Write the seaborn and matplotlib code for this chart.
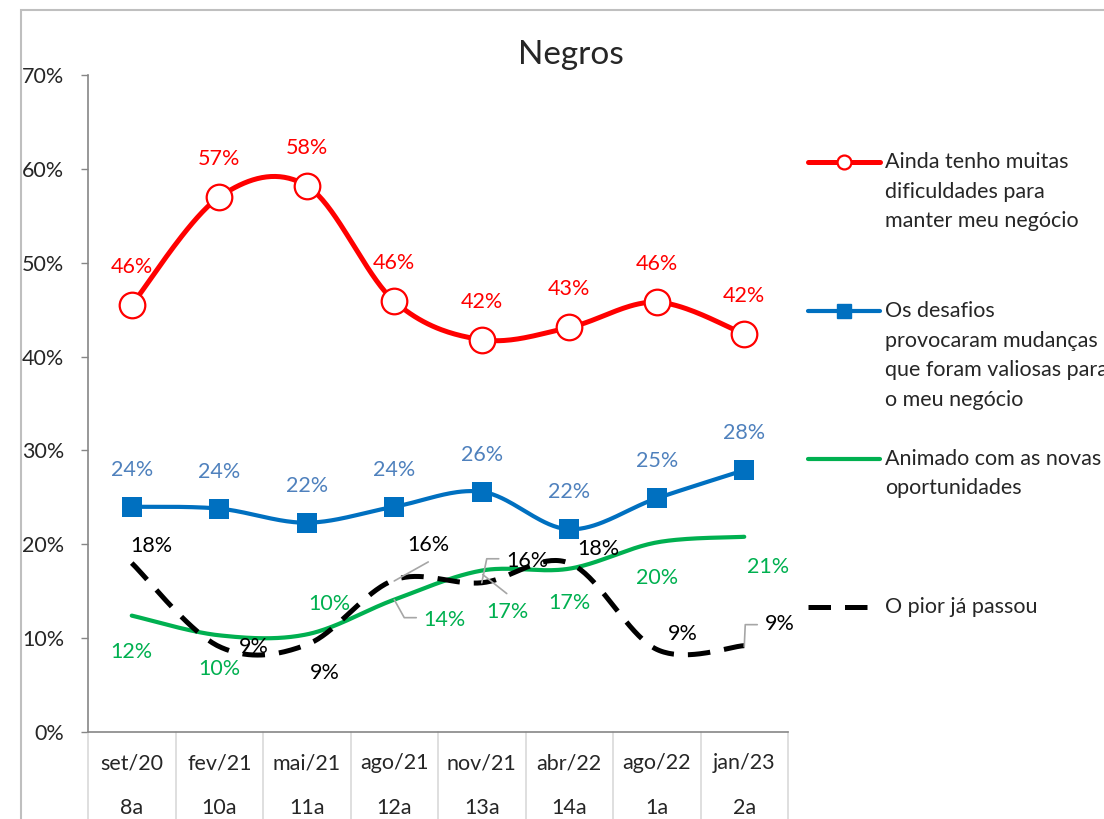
import numpy as np
import matplotlib
matplotlib.use('Agg')
import matplotlib.pyplot as plt
import matplotlib.transforms as mtransforms
from matplotlib.lines import Line2D
from matplotlib.patches import Rectangle
import seaborn as sns

sns.set_style('white')
plt.rcParams['font.family'] = ['Lato', 'DejaVu Sans']

# ── DATA ──────────────────────────────────────────────────────────────────────
months  = ['set/20', 'fev/21', 'mai/21', 'ago/21', 'nov/21', 'abr/22', 'ago/22', 'jan/23']
waves   = ['8a', '10a', '11a', '12a', '13a', '14a', '1a', '2a']
dificuldades = [0.455, 0.570, 0.582, 0.459, 0.418, 0.431, 0.458, 0.424]
desafios     = [0.240, 0.238, 0.223, 0.240, 0.256, 0.216, 0.249, 0.279]
animado      = [0.124, 0.103, 0.104, 0.141, 0.172, 0.174, 0.202, 0.208]
pior_passou  = [0.180, 0.091, 0.093, 0.162, 0.159, 0.180, 0.088, 0.092]

RED, BLUE, GREEN, BLACK = '#FF0000', '#0070C0', '#00B050', '#000000'
BLUE_LBL = '#4F81BD'
FS = 15.5

# label offsets in pixels (dx, dy up) from each point
off_red   = [(0, 38)] * 8
off_blue  = [(0, 37)] * 8
off_green = [(0, -36), (0, -34), (23, 30), (50, -20), (26, -41), (0, -34), (0, -36), (24, -30)]
off_black = [(20, 17), (35, 0), (18, -28), (34, 35), (46, 22), (29, 14), (26, 15), (36, 22)]

# gray leader lines: (series, index, vertices in px offsets)
leaders = [
    ('green', 3, [(0, 0), (10, -18), (22, -18)]),
    ('black', 3, [(0, -1), (34, 18)]),
    ('black', 4, [(0, 0), (5, 24), (17, 24)]),
    ('green', 4, [(1, -4), (25, -23)]),
    ('black', 7, [(0, -1), (1, 21), (13, 21)]),
]


def smooth(y, n=40):
    # Excel-style smoothed line (cubic bezier through points)
    pts = np.column_stack([np.arange(len(y)), y]).astype(float)
    out = []
    for i in range(len(y) - 1):
        p0 = pts[max(i - 1, 0)]
        p1 = pts[i]
        p2 = pts[i + 1]
        p3 = pts[min(i + 2, len(y) - 1)]
        c1 = p1 + (p2 - p0) / 6
        c2 = p2 - (p3 - p1) / 6
        t = np.linspace(0, 1, n)[:, None]
        seg = (1 - t)**3 * p1 + 3 * (1 - t)**2 * t * c1 + 3 * (1 - t) * t**2 * c2 + t**3 * p2
        out.append(seg if i == 0 else seg[1:])
    return np.vstack(out)


W, H = 1104, 819
fig = plt.figure(figsize=(W / 100, H / 100), dpi=100)
ax = fig.add_axes([88 / W, 1 - 732 / H, 700 / W, 657 / H])

x = np.arange(len(months))

DASH = (0, (4.5, 2.8))
series = {
    'red':   (dificuldades, RED, 3.6, '-'),
    'blue':  (desafios, BLUE, 3.0, '-'),
    'green': (animado, GREEN, 3.0, '-'),
    'black': (pior_passou, BLACK, 3.6, DASH),
}
for key in ['green', 'black', 'blue', 'red']:
    vals, col, lw, ls = series[key]
    s = smooth(vals)
    sns.lineplot(x=s[:, 0], y=s[:, 1], color=col, linewidth=lw, linestyle=ls,
                 sort=False, estimator=None, ax=ax, zorder=3)

sns.scatterplot(x=x, y=desafios, marker='s', s=210, color=BLUE, edgecolor=BLUE,
                linewidth=0, ax=ax, zorder=4)
sns.scatterplot(x=x, y=dificuldades, marker='o', s=340, color='white', edgecolor=RED,
                linewidth=1.6, ax=ax, zorder=4)

ax.set_xlim(-0.5, len(months) - 0.5)
ax.set_ylim(0, 0.7)
ax.set_yticks(np.arange(0, 0.71, 0.1))
ax.set_yticklabels([f'{int(round(v * 100))}%' for v in np.arange(0, 0.71, 0.1)], fontsize=FS)
ax.set_xticks([])
ax.tick_params(axis='y', length=5, width=1, color='#868686', pad=12, left=True)
for sp in ['top', 'right']:
    ax.spines[sp].set_visible(False)
for sp in ['left', 'bottom']:
    ax.spines[sp].set_color('#868686')
    ax.spines[sp].set_linewidth(1.2)
ax.set_xlabel('')
ax.set_ylabel('')

# category table below the axis
trans_b = mtransforms.blended_transform_factory(ax.transData, ax.transAxes)
for b in np.arange(-0.5, len(months), 1):
    ax.plot([b, b], [0, -0.2], color='#d9d9d9', lw=1.2, transform=trans_b, clip_on=False)
for i, (m, w) in enumerate(zip(months, waves)):
    ax.text(i, -31 / 657, m, transform=trans_b, ha='center', va='center', fontsize=FS)
    ax.text(i, -76 / 657, w, transform=trans_b, ha='center', va='center', fontsize=FS)

# data labels
def label(vals, offs, color):
    for i, (v, (dx, dy)) in enumerate(zip(vals, offs)):
        ax.annotate(f'{int(round(v * 100))}%', (i, v), xytext=(dx * 0.72, dy * 0.72),
                    textcoords='offset points', ha='center', va='center',
                    color=color, fontsize=FS, zorder=6)

label(dificuldades, off_red, RED)
label(desafios, off_blue, BLUE_LBL)
label(animado, off_green, GREEN)
label(pior_passou, off_black, BLACK)

vals_by = {'green': animado, 'black': pior_passou}
for key, i, verts in leaders:
    tr = mtransforms.ScaledTranslation(i, vals_by[key][i], ax.transData)
    tr = mtransforms.Affine2D().scale(1.0) + tr
    vx, vy = zip(*verts)
    ax.add_line(Line2D(vx, vy, color='#a6a6a6', lw=1.2, transform=tr, clip_on=False, zorder=5))

# title
fig.text(571 / W, 1 - 55 / H, 'Negros', ha='center', va='center', fontsize=24)

# legend (drawn by hand to match the Excel layout)
def fx(px):
    return px / W

def fy(py):
    return 1 - py / H

leg = [
    (162, ['Ainda tenho muitas', 'dificuldades para', 'manter meu negócio'], RED, '-', 'o'),
    (311, ['Os desafios', 'provocaram mudanças', 'que foram valiosas para', 'o meu negócio'], BLUE, '-', 's'),
    (459, ['Animado com as novas', 'oportunidades'], GREEN, '-', None),
    (607, ['O pior já passou'], BLACK, DASH, None),
]
for y0, lines, col, ls, mk in leg:
    lw = 3.6 if col in (RED, BLACK) else 3.0
    fig.add_artist(Line2D([fx(808), fx(880)], [fy(y0), fy(y0)], color=col, lw=lw, linestyle=ls,
                          transform=fig.transFigure))
    if mk == 'o':
        fig.add_artist(Line2D([fx(844)], [fy(y0)], marker='o', markersize=10, markerfacecolor='white',
                              markeredgecolor=RED, markeredgewidth=1.6, transform=fig.transFigure))
    elif mk == 's':
        fig.add_artist(Line2D([fx(844)], [fy(y0)], marker='s', markersize=10, color=BLUE,
                              transform=fig.transFigure))
    for k, t in enumerate(lines):
        fig.text(fx(885), fy(y0 + k * 29.5), t, ha='left', va='center', fontsize=FS)

# outer chart frame
fig.add_artist(Rectangle((fx(21), fy(900)), fx(1200), fy(10) - fy(900), fill=False,
                         edgecolor='#bfbfbf', lw=1.5, transform=fig.transFigure))

fig.savefig('out.png', dpi=100)
